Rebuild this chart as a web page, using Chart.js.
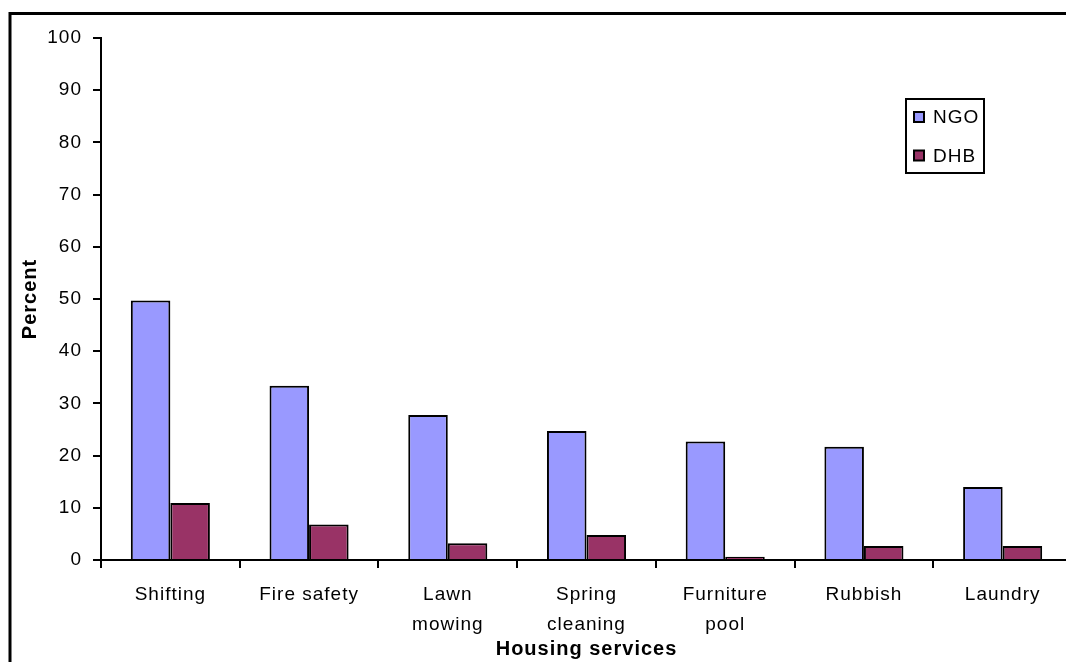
<!DOCTYPE html>
<html>
<head>
<meta charset="utf-8">
<title>Housing services by provider</title>
<script src="https://cdn.jsdelivr.net/npm/chart.js@4/dist/chart.umd.min.js"></script>
<style>
  html, body { margin: 0; padding: 0; background: #fff; overflow: hidden; }
  #wrap { width: 1110px; height: 700px; }
</style>
</head>
<body>
<div id="wrap"><canvas id="chart" width="1110" height="700"></canvas></div>
<script>
// Housing services categories (multi-line labels as shown under the axis)
const categories = [
  'Shifting',
  'Fire safety',
  ['Lawn', 'mowing'],
  ['Spring', 'cleaning'],
  ['Furniture', 'pool'],
  'Rubbish',
  'Laundry'
];

// Percent of respondents using each service
const ngoValues = [49.7, 33.4, 27.8, 24.7, 22.7, 21.7, 14.0];
const dhbValues = [10.9, 6.8, 3.2, 4.8, 0.6, 2.7, 2.7];

const seriesNames = ['NGO', 'DHB'];
const yTicks = [0, 10, 20, 30, 40, 50, 60, 70, 80, 90, 100];

const FONT = "'Liberation Sans', Arial, sans-serif";
Chart.defaults.color = '#000';
Chart.defaults.font.family = FONT;

// Outer frame around the whole figure; also sets the slightly open text tracking
const framePlugin = {
  id: 'frame',
  beforeDraw(chart) {
    const ctx = chart.ctx;
    ctx.letterSpacing = '1px';
    ctx.save();
    ctx.fillStyle = '#fff';
    ctx.fillRect(0, 0, chart.width, chart.height);
    ctx.strokeStyle = '#000';
    ctx.lineWidth = 3;
    ctx.strokeRect(10, 13.5, chart.width + 20, chart.height + 20);
    ctx.restore();
  }
};

// Boxed legend placed inside the plot, upper right
const boxLegend = {
  id: 'boxLegend',
  afterDraw(chart) {
    const ctx = chart.ctx;
    ctx.save();
    ctx.strokeStyle = '#000';
    ctx.lineWidth = 2;
    ctx.strokeRect(906, 99, 78, 74);
    ctx.font = '19px ' + FONT;
    ctx.textBaseline = 'middle';
    ctx.textAlign = 'left';
    const rows = [117, 155.5];
    chart.data.datasets.forEach((ds, i) => {
      const y = rows[i];
      ctx.fillStyle = ds.backgroundColor;
      ctx.fillRect(914, y - 5, 10, 10);
      ctx.lineWidth = 2;
      ctx.strokeRect(914, y - 5, 10, 10);
      ctx.fillStyle = '#000';
      ctx.fillText(ds.label, 933, y + 1);
    });
    ctx.restore();
  }
};

new Chart(document.getElementById('chart'), {
  type: 'bar',
  data: {
    labels: categories,
    datasets: [
      {
        label: seriesNames[0],
        data: ngoValues,
        backgroundColor: '#9999FF',
        borderColor: '#000',
        borderWidth: 2
      },
      {
        label: seriesNames[1],
        data: dhbValues,
        backgroundColor: '#993366',
        borderColor: '#000',
        borderWidth: 2
      }
    ]
  },
  options: {
    responsive: false,
    animation: false,
    devicePixelRatio: 1,
    layout: { padding: { top: 38, right: 38, bottom: 30, left: 0 } },
    datasets: {
      bar: { barPercentage: 1, categoryPercentage: 0.57 }
    },
    plugins: {
      legend: { display: false },
      tooltip: { enabled: false }
    },
    scales: {
      x: {
        afterFit(scale) { scale.height = 110; },
        grid: {
          offset: true,
          drawOnChartArea: false,
          drawTicks: true,
          tickLength: 8,
          color: '#000',
          lineWidth: 2
        },
        border: { display: true, color: '#000', width: 2 },
        ticks: {
          color: '#000',
          padding: 12,
          maxRotation: 0,
          autoSkip: false,
          font: { size: 19, family: FONT, lineHeight: '30px' }
        },
        title: {
          display: true,
          text: 'Housing services',
          color: '#000',
          font: { size: 20, weight: 'bold', family: FONT },
          padding: { top: 0, bottom: 9 }
        }
      },
      y: {
        min: 0,
        max: 100,
        afterFit(scale) { scale.width = 101; },
        afterBuildTicks(scale) { scale.ticks = yTicks.map(v => ({ value: v })); },
        grid: {
          drawOnChartArea: false,
          drawTicks: true,
          tickLength: 8,
          color: '#000',
          lineWidth: 2
        },
        border: { display: true, color: '#000', width: 2 },
        ticks: {
          color: '#000',
          padding: 11,
          font: { size: 19, family: FONT }
        },
        title: {
          display: true,
          text: 'Percent',
          color: '#000',
          font: { size: 20, weight: 'bold', family: FONT },
          padding: { top: 18, bottom: 0 }
        }
      }
    }
  },
  plugins: [framePlugin, boxLegend]
});
</script>
</body>
</html>
